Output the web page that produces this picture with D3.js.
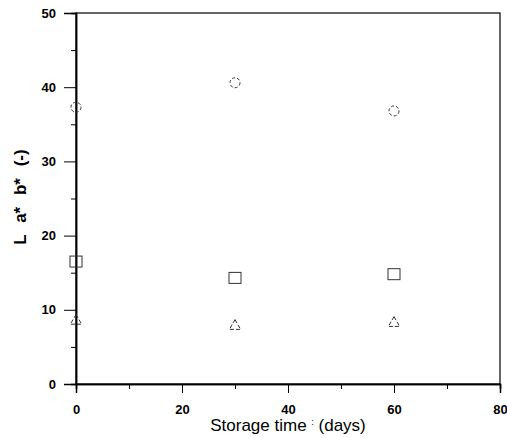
<!DOCTYPE html>
<html>
<head>
<meta charset="utf-8">
<script src="https://cdn.jsdelivr.net/npm/d3@7"></script>
<style>
body { margin: 0; background: #fff; }
text { font-family: "Liberation Sans", Arial, sans-serif; }
</style>
</head>
<body>
<svg id="chart" width="507" height="438"></svg>
<script>
var days = [0, 30, 60];
var lValues = [37.3, 40.6, 36.8];   // circles
var aValues = [16.5, 14.3, 14.8];   // squares
var bValues = [8.5, 7.8, 8.2];      // triangles
var xTicks = [0, 20, 40, 60, 80];
var yTicks = [0, 10, 20, 30, 40, 50];

var svg = d3.select("#chart");
var padL = 76, padR = 500, padT = 13, padB = 384;

var x = d3.scaleLinear().domain([0, 80]).range([padL, padR]);
var y = d3.scaleLinear().domain([0, 50]).range([padB, padT]);

// frame
svg.append("rect")
    .attr("x", padL).attr("y", padT)
    .attr("width", padR - padL).attr("height", padB - padT)
    .attr("fill", "none").attr("stroke", "#000").attr("stroke-width", 1.2);

// x axis
svg.append("g").attr("transform", "translate(0," + padB + ")")
    .call(d3.axisBottom(x).tickValues(xTicks).tickSize(9).tickPadding(12));
svg.append("g").attr("transform", "translate(0," + padB + ")")
    .call(d3.axisBottom(x).tickValues([10, 30, 50, 70]).tickSize(5).tickFormat(""));

// y axis
svg.append("g").attr("transform", "translate(" + padL + ",0)")
    .call(d3.axisLeft(y).tickValues(yTicks).tickSize(12).tickPadding(8));
svg.append("g").attr("transform", "translate(" + padL + ",0)")
    .call(d3.axisLeft(y).tickValues([5, 15, 25, 35, 45]).tickSize(5).tickFormat(""));

svg.selectAll(".domain").attr("stroke", "#000").attr("stroke-width", 1.5);
svg.selectAll(".tick line").attr("stroke", "#000").attr("stroke-width", 1);
svg.selectAll(".tick text")
    .attr("font-size", 13).attr("font-weight", "bold").attr("fill", "#000")
    .style("font-family", "'Liberation Sans', Arial, sans-serif");

// markers
var mk = svg.append("g").attr("fill", "none").attr("stroke", "#333").attr("stroke-width", 1);

mk.selectAll("circle").data(days).enter().append("circle")
    .attr("cx", function(d) { return x(d); })
    .attr("cy", function(d, i) { return y(lValues[i]); })
    .attr("r", 5)
    .attr("stroke-dasharray", "3,2");

mk.selectAll("rect").data(days).enter().append("rect")
    .attr("x", function(d) { return x(d) - 6; })
    .attr("y", function(d, i) { return y(aValues[i]) - 5.5; })
    .attr("width", 12).attr("height", 11);

var tri = d3.symbol().type(d3.symbolTriangle).size(55);
mk.selectAll("path").data(days).enter().append("path")
    .attr("d", tri)
    .attr("transform", function(d, i) { return "translate(" + x(d) + "," + y(bValues[i]) + ")"; })
    .attr("stroke-dasharray", "4,2");

// axis titles
var xt = svg.append("text")
    .attr("x", x(40)).attr("y", 431)
    .attr("text-anchor", "middle")
    .attr("font-size", 17);
xt.append("tspan").text("Storage time ");
xt.append("tspan").attr("font-size", 9).attr("dy", -6).text(":");
xt.append("tspan").attr("dy", 6).text(" (days)");

svg.append("text")
    .attr("transform", "translate(26,197) rotate(-90)")
    .attr("text-anchor", "middle")
    .attr("font-size", 17)
    .attr("font-weight", "bold")
    .attr("word-spacing", 7)
    .text("L a* b* (-)");
</script>
</body>
</html>
